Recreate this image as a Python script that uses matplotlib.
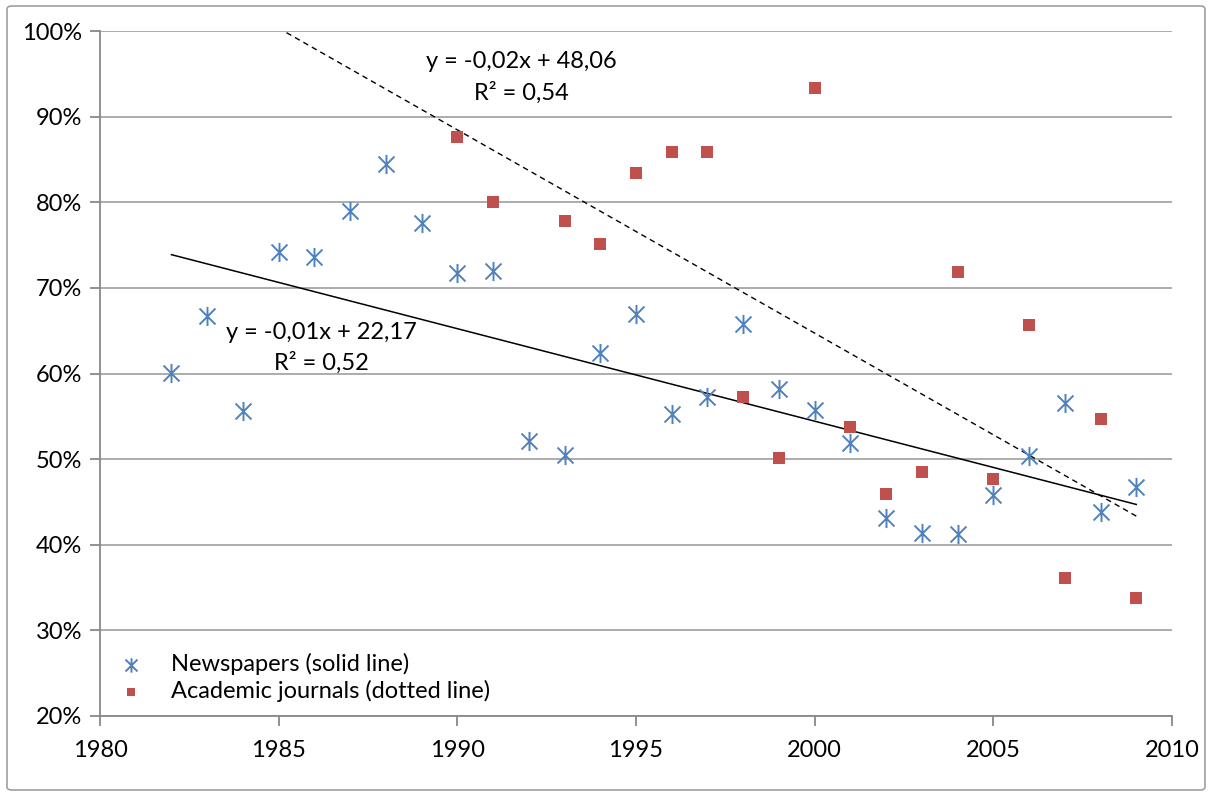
import numpy as np
import matplotlib
matplotlib.use("Agg")
import matplotlib.pyplot as plt
from matplotlib.patches import FancyBboxPatch
from matplotlib.path import Path

plt.rcParams['font.family'] = ['Lato', 'DejaVu Sans']

# Newspapers (share in %)
news_years = list(range(1982, 2010))
news_vals = [60.1, 66.7, 55.6, 74.2, 73.6, 79.0, 84.5, 77.6, 71.7, 72.0,
             52.1, 50.5, 62.4, 67.0, 55.3, 57.2, 65.8, 58.2, 55.7, 51.9,
             43.1, 41.4, 41.3, 45.8, 50.4, 56.6, 43.8, 46.7]

# Academic journals (share in %)
acad_years = [1990, 1991, 1993, 1994, 1995, 1996, 1997, 1998, 1999, 2000,
              2001, 2002, 2003, 2004, 2005, 2006, 2007, 2008, 2009]
acad_vals = [87.6, 80.0, 77.8, 75.1, 83.4, 85.9, 85.9, 57.2, 50.1, 93.3,
             53.7, 45.9, 48.5, 71.9, 47.7, 65.7, 36.1, 54.7, 33.8]

yticks = [20, 30, 40, 50, 60, 70, 80, 90, 100]
xticks = [1980, 1985, 1990, 1995, 2000, 2005, 2010]

blue = '#4f81bd'
red = '#c0504d'
grid_col = '#a6a6a6'

# Excel-style star marker: X plus a vertical bar
star = Path([(-1, -1), (1, 1), (-1, 1), (1, -1), (0, -1.2), (0, 1.2)],
            [Path.MOVETO, Path.LINETO, Path.MOVETO, Path.LINETO,
             Path.MOVETO, Path.LINETO])

fig = plt.figure(figsize=(12.12, 7.96), dpi=100)
ax = fig.add_axes([100 / 1212, 1 - 716 / 796, 1072 / 1212, 685 / 796])

# chart border
fig.patches.append(FancyBboxPatch((7 / 1212, 6 / 796), 1198 / 1212, 784 / 796,
                                  boxstyle='round,pad=0,rounding_size=0.004',
                                  transform=fig.transFigure, fill=False,
                                  edgecolor='#a0a0a0', linewidth=1.2))

ax.scatter(news_years, news_vals, marker=star, s=190, color=blue,
           linewidths=1.4, label='Newspapers (solid line)', zorder=3)
ax.scatter(acad_years, acad_vals, marker='s', s=72, color=red,
           linewidths=0, label='Academic journals (dotted line)', zorder=3)

# linear trends
p_news = np.polyfit(news_years, news_vals, 1)
xs = np.array([1982, 2009])
ax.plot(xs, np.polyval(p_news, xs), color='black', linewidth=1.1, zorder=2)

p_acad = np.polyfit(acad_years, acad_vals, 1)
xs2 = np.array([1982, 2009])
ax.plot(xs2, np.polyval(p_acad, xs2), color='black', linewidth=1.0,
        linestyle=(0, (4, 3)), zorder=2)

fs = 17
ax.text(1991.8, 96.4, 'y = -0,02x + 48,06', ha='center', va='center', fontsize=fs)
ax.text(1991.8, 92.8, 'R² = 0,54', ha='center', va='center', fontsize=fs)
ax.text(1986.2, 64.8, 'y = -0,01x + 22,17', ha='center', va='center', fontsize=fs)
ax.text(1986.2, 61.3, 'R² = 0,52', ha='center', va='center', fontsize=fs)

ax.set_xlim(1980, 2010)
ax.set_ylim(20, 100)
ax.set_xticks(xticks)
ax.set_yticks(yticks)
ax.set_yticklabels([f'{v}%' for v in yticks])
ax.tick_params(labelsize=fs, color='#888888', length=7, width=1.3)
ax.tick_params(axis='x', pad=10)
ax.tick_params(axis='y', pad=6)
ax.grid(axis='y', color=grid_col, linewidth=1.3)
ax.set_axisbelow(True)
for s in ['top', 'right']:
    ax.spines[s].set_visible(False)
for s in ['left', 'bottom']:
    ax.spines[s].set_color('#888888')
    ax.spines[s].set_linewidth(1.3)

leg = ax.legend(loc='lower left', bbox_to_anchor=(0.0, -0.004), frameon=False,
                fontsize=fs, handletextpad=1.1, labelspacing=0.2,
                handlelength=1.2, borderaxespad=0.3, markerscale=0.75)

fig.savefig('out.png', dpi=100)
